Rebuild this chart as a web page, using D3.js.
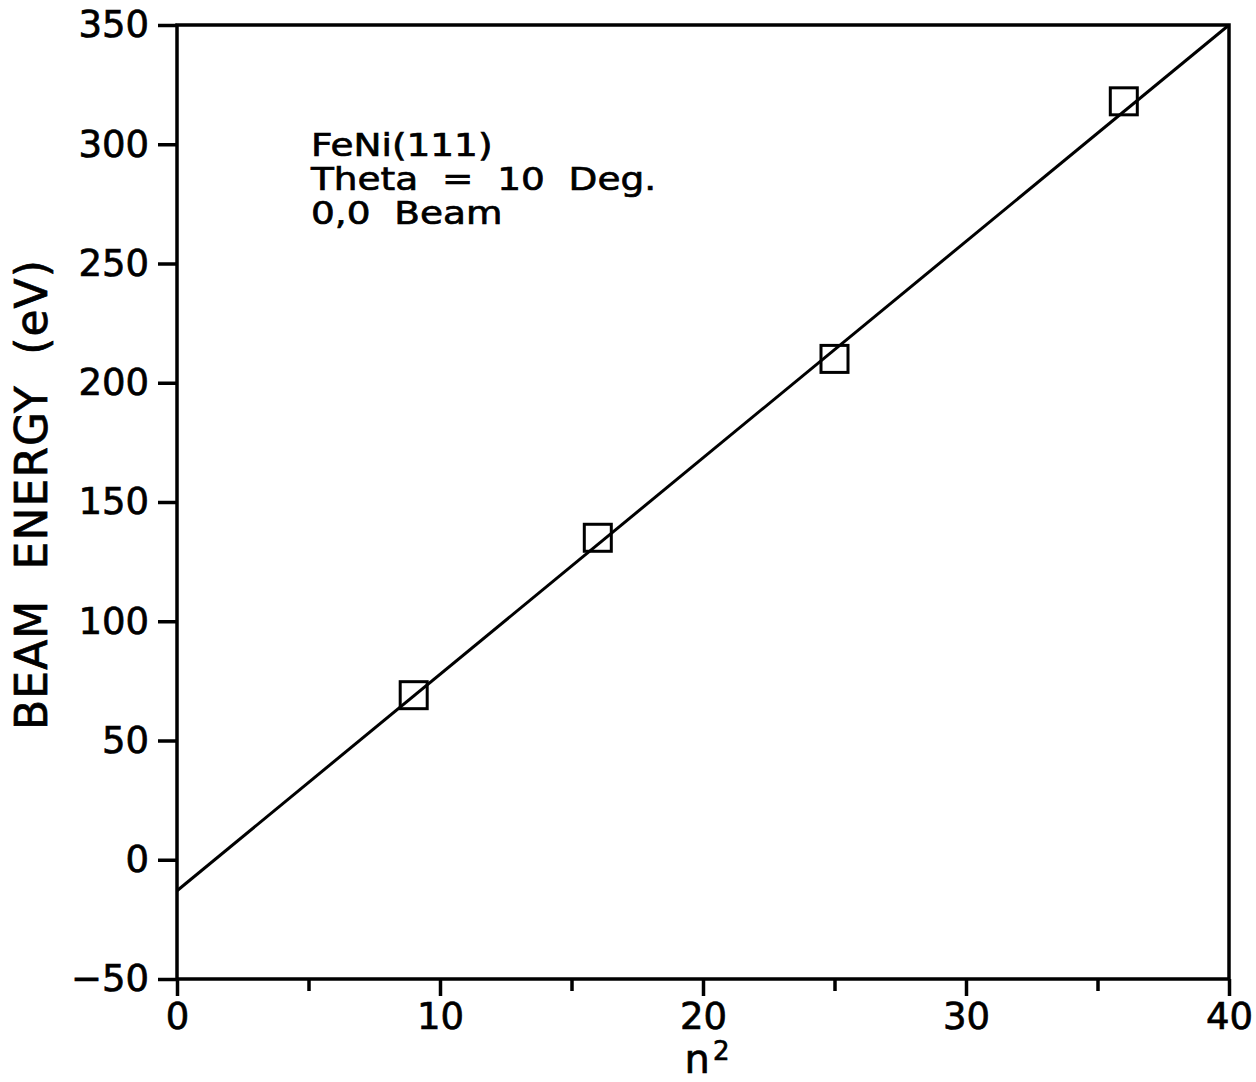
<!DOCTYPE html>
<html>
<head>
<meta charset="utf-8">
<script src="https://cdn.jsdelivr.net/npm/d3@7"></script>
<style>
body { margin: 0; background: #fff; }
text { font-family: "DejaVu Sans", sans-serif; fill: #000; stroke: #000; stroke-width: 0.7px; }
</style>
</head>
<body>
<div id="chart"></div>
<script>
// measured points: n^2 vs beam energy
var nSquared = [9, 16, 25, 36];
var energy = [69, 135, 210, 318];

// fitted line end points
var fitN = [0, 40];
var fitE = [-13, 350];

var xMajor = [0, 10, 20, 30, 40];
var xMinor = [5, 15, 25, 35];
var yTicks = [-50, 0, 50, 100, 150, 200, 250, 300, 350];

var notes = ["FeNi(111)", "Theta  =  10  Deg.", "0,0  Beam"];

var svg = d3.select("#chart").append("svg")
  .attr("width", 1256).attr("height", 1082);

var x = d3.scaleLinear().domain([0, 40]).range([177, 1229]);
var y = d3.scaleLinear().domain([-50, 350]).range([979, 25]);

// frame
svg.append("rect")
  .attr("x", x(0)).attr("y", y(350))
  .attr("width", x(40) - x(0)).attr("height", y(-50) - y(350))
  .attr("fill", "none").attr("stroke", "#000").attr("stroke-width", 3.5);

// y axis
var yAxis = svg.append("g")
  .attr("transform", "translate(" + x(0) + ",0)")
  .call(d3.axisLeft(y).tickValues(yTicks).tickSize(19).tickPadding(9));
yAxis.select(".domain").remove();
yAxis.selectAll("line").attr("stroke-width", 3.5);
yAxis.selectAll("text").attr("font-size", 37).attr("font-family", "DejaVu Sans")
  .text(function(d) { return d < 0 ? "\u2212" + Math.abs(d) : d; });

// x axis major
var xAxis = svg.append("g")
  .attr("transform", "translate(0," + y(-50) + ")")
  .call(d3.axisBottom(x).tickValues(xMajor).tickSize(17).tickPadding(7));
xAxis.select(".domain").remove();
xAxis.selectAll("line").attr("stroke-width", 3.5);
xAxis.selectAll("text").attr("font-size", 37).attr("font-family", "DejaVu Sans");

// x axis minor
var xAxisMinor = svg.append("g")
  .attr("transform", "translate(0," + y(-50) + ")")
  .call(d3.axisBottom(x).tickValues(xMinor).tickSize(12).tickFormat(""));
xAxisMinor.select(".domain").remove();
xAxisMinor.selectAll("line").attr("stroke-width", 3.5);

// fit line
var line = d3.line()
  .x(function(d, i) { return x(fitN[i]); })
  .y(function(d) { return y(d); });

svg.append("path")
  .datum(fitE)
  .attr("d", line)
  .attr("fill", "none").attr("stroke", "#000").attr("stroke-width", 3);

// square markers
var s = 27;
svg.append("g")
  .selectAll("rect")
  .data(energy)
  .enter().append("rect")
  .attr("x", function(d, i) { return x(nSquared[i]) - s / 2; })
  .attr("y", function(d) { return y(d) - s / 2; })
  .attr("width", s).attr("height", s)
  .attr("fill", "none").attr("stroke", "#000").attr("stroke-width", 3);

// annotation (widened a bit to match the plotter font)
svg.append("g")
  .attr("transform", "translate(311,0) scale(1.17,1)")
  .selectAll("text")
  .data(notes)
  .enter().append("text")
  .attr("x", 0)
  .attr("y", function(d, i) { return 156 + i * 34; })
  .attr("font-size", 32)
  .style("white-space", "pre")
  .text(function(d) { return d; });

// axis titles
var xt = svg.append("text")
  .attr("x", 707).attr("y", 1073)
  .attr("text-anchor", "middle")
  .attr("font-size", 40);
xt.append("tspan").text("n");
xt.append("tspan").attr("font-size", 26).attr("dy", -13).attr("dx", 3).text("2");

svg.append("text")
  .attr("transform", "translate(47,495) rotate(-90)")
  .attr("text-anchor", "middle")
  .attr("font-size", 44)
  .attr("textLength", 470)
  .style("white-space", "pre")
  .text("BEAM  ENERGY  (eV)");
</script>
</body>
</html>
